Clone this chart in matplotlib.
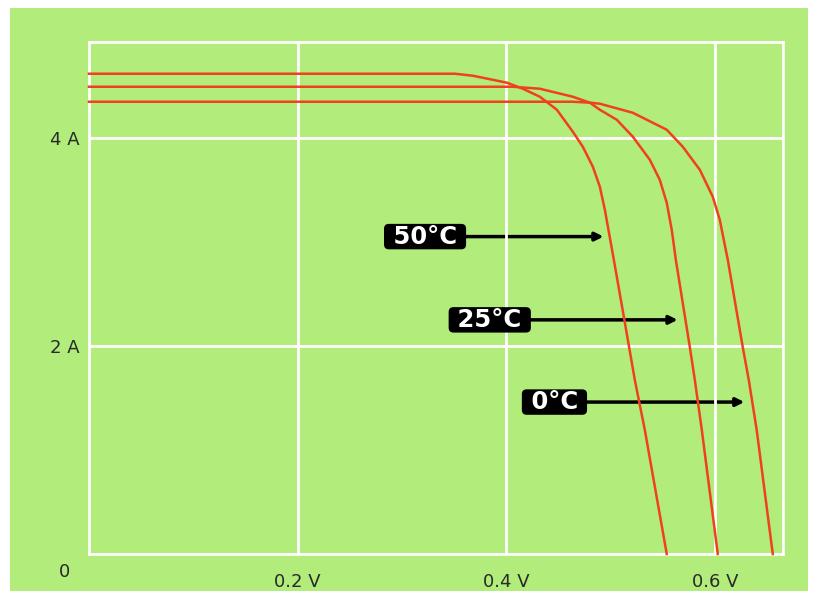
import numpy as np
import matplotlib.pyplot as plt
from matplotlib.patches import Rectangle

# I-V curves of a solar cell at three temperatures
v_50 = [0.0, 0.3506, 0.3678, 0.4004, 0.4157, 0.4320, 0.4483, 0.4636, 0.4732, 0.4828,
        0.4895, 0.4943, 0.5029, 0.5125, 0.5230, 0.5326, 0.5536]
i_50 = [4.615, 4.615, 4.596, 4.529, 4.471, 4.394, 4.269, 4.058, 3.913, 3.721,
        3.529, 3.308, 2.827, 2.279, 1.673, 1.192, 0.0]

v_25 = [0.0, 0.4061, 0.4320, 0.4636, 0.4799, 0.4895, 0.5057, 0.5211, 0.5374, 0.5469,
        0.5536, 0.5584, 0.5623, 0.5757, 0.5805, 0.5872, 0.6025]
i_25 = [4.490, 4.490, 4.471, 4.394, 4.337, 4.269, 4.173, 4.010, 3.788, 3.596,
        3.375, 3.115, 2.827, 1.990, 1.673, 1.192, 0.0]

v_0 = [0.0, 0.4636, 0.4799, 0.4895, 0.5211, 0.5536, 0.5690, 0.5853, 0.5977, 0.6044,
       0.6121, 0.6264, 0.6322, 0.6398, 0.6552]
i_0 = [4.346, 4.346, 4.337, 4.327, 4.240, 4.077, 3.913, 3.692, 3.433, 3.212,
       2.827, 1.990, 1.673, 1.192, 0.0]

labels = ['50°C', '25°C', '0°C']
label_pos = [(0.322, 3.05), (0.384, 2.25), (0.446, 1.46)]
arrow_tip = [(0.493, 3.05), (0.564, 2.25), (0.628, 1.46)]

x_ticks = [0.2, 0.4, 0.6]
x_tick_labels = ['0.2 V', '0.4 V', '0.6 V']
y_ticks = [2, 4]
y_tick_labels = ['2 A', '4 A']

green = '#b2ec7a'
red = '#f0401e'

fig = plt.figure(figsize=(8.2, 6), dpi=100, facecolor='white')
fig.patches.append(Rectangle((10 / 820, 9 / 600), 798 / 820, 583 / 600,
                             transform=fig.transFigure, facecolor=green,
                             edgecolor='none', zorder=0))

ax = fig.add_axes([89 / 820, 46 / 600, 694 / 820, 512 / 600])
ax.set_zorder(2)
ax.set_facecolor(green)
ax.set_xlim(0, 0.665)
ax.set_ylim(0, 4.92)

for s in ax.spines.values():
    s.set_color('white')
    s.set_linewidth(2)

ax.set_xticks(x_ticks)
ax.set_xticklabels(x_tick_labels)
ax.set_yticks(y_ticks)
ax.set_yticklabels(y_tick_labels)
ax.tick_params(length=0, labelsize=13, labelcolor='#2a2a2a')
ax.tick_params(axis='x', pad=14)
ax.tick_params(axis='y', pad=7)
ax.grid(True, color='white', linewidth=2)
ax.text(-0.018, -0.09, '0', fontsize=13, color='#2a2a2a', ha='right', va='top')

for v, i in [(v_50, i_50), (v_25, i_25), (v_0, i_0)]:
    ax.plot(v, i, color=red, linewidth=1.8, zorder=3, clip_on=False,
            solid_joinstyle='round')

for lab, pos, tip in zip(labels, label_pos, arrow_tip):
    ax.annotate('', xy=tip, xytext=pos,
                arrowprops=dict(arrowstyle='-|>', color='black', lw=2.5,
                                mutation_scale=12, shrinkA=0, shrinkB=0),
                zorder=1)
    ax.text(pos[0], pos[1], ' ' + lab + ' ', fontsize=17.5, fontweight='bold',
            color='white', family='DejaVu Sans', ha='center', va='center', zorder=4,
            bbox=dict(boxstyle='round,pad=0.03,rounding_size=0.2',
                      facecolor='black', edgecolor='none'))

fig.savefig('out.png', dpi=100, facecolor='white')
